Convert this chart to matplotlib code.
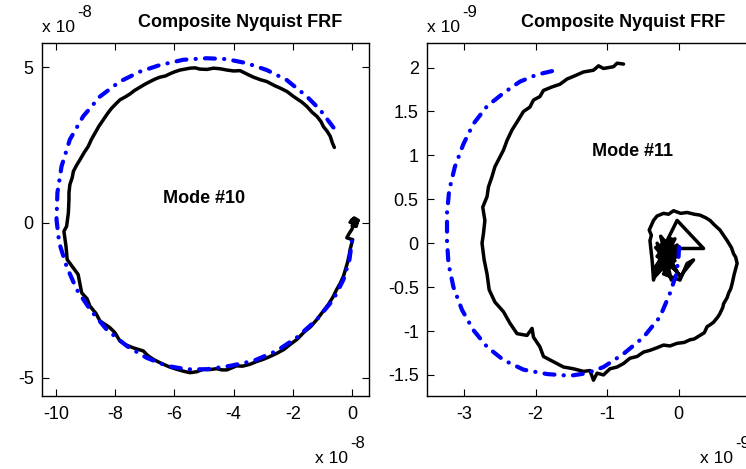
import matplotlib
matplotlib.use("Agg")
import matplotlib.pyplot as plt

plt.rcParams['font.family'] = ['Liberation Sans', 'DejaVu Sans']
plt.rcParams['axes.unicode_minus'] = False

# ---------------- data (x1e-8 for mode 10, x1e-9 for mode 11) ----------------
m10_fit_re = [-0.63, -1.08, -1.53, -2.21, -2.88, -3.56, -4.23, -4.91, -5.70, -6.49, -7.16, -7.84,
              -8.51, -9.08, -9.53, -9.81, -9.95, -9.98, -9.89, -9.64, -9.30, -8.85, -8.29, -7.61,
              -6.94, -6.26, -5.59, -4.91, -4.12, -3.33, -2.55, -1.87, -1.19, -0.63, -0.29, -0.09,
              0.00, 0.05]
m10_fit_im = [3.06, 3.63, 4.06, 4.59, 4.91, 5.13, 5.26, 5.29, 5.24, 5.07, 4.86, 4.54,
              4.06, 3.42, 2.67, 1.81, 0.96, 0.10, -0.65, -1.41, -2.15, -2.79, -3.44, -3.97,
              -4.35, -4.61, -4.72, -4.72, -4.61, -4.45, -4.13, -3.70, -3.12, -2.47, -1.83, -1.19,
              -0.55, -0.33]

m10_meas_re = [-0.60, -0.66, -0.74, -0.85, -0.97, -1.05, -1.19, -1.35, -1.53, -1.70, -1.98, -2.20,
               -2.43, -2.60, -2.88, -3.10, -3.33, -3.55, -3.78, -4.00, -4.23, -4.45, -4.68, -4.90,
               -5.14, -5.30, -5.47, -5.65, -5.81, -6.00, -6.15, -6.30, -6.49, -6.65, -6.82, -7.00,
               -7.16, -7.35, -7.50, -7.65, -7.84, -8.00, -8.12, -8.25, -8.40, -8.55, -8.68, -8.80,
               -8.91, -9.05, -9.19, -9.30, -9.41, -9.45, -9.53, -9.56, -9.56, -9.58, -9.64, -9.73,
               -9.66, -9.62, -9.41, -9.25, -9.13, -8.95, -8.85, -8.65, -8.51, -8.30, -8.18, -8.01,
               -7.84, -7.60, -7.39, -7.05, -6.90, -6.71, -6.55, -6.37, -6.15, -5.92, -5.70, -5.47,
               -5.25, -5.02, -4.80, -4.57, -4.40, -4.23, -3.90, -3.70, -3.45, -3.25, -3.00, -2.80,
               -2.55, -2.30, -2.09, -1.85, -1.64, -1.40, -1.19, -1.00, -0.80, -0.65, -0.52, -0.40,
               -0.29, -0.16, -0.10, -0.07, 0.02, -0.18, -0.10, -0.01, 0.10, 0.05, 0.16, -0.07,
               0.07, 0.21, 0.10, 0.00, 0.14, 0.18, -0.02, 0.12, 0.04]
m10_meas_im = [2.42, 2.55, 2.78, 2.95, 3.09, 3.25, 3.42, 3.55, 3.74, 3.88, 4.06, 4.22,
               4.33, 4.40, 4.54, 4.60, 4.68, 4.78, 4.89, 4.88, 4.91, 4.95, 4.97, 4.93,
               4.94, 4.98, 4.97, 4.94, 4.91, 4.85, 4.79, 4.72, 4.68, 4.62, 4.54, 4.45,
               4.36, 4.25, 4.14, 4.05, 3.95, 3.80, 3.68, 3.52, 3.31, 3.10, 2.88, 2.68,
               2.45, 2.25, 2.02, 1.85, 1.65, 1.45, 1.22, 0.95, 0.74, 0.31, -0.12, -0.28,
               -0.76, -1.19, -1.46, -1.67, -2.26, -2.45, -2.69, -2.92, -3.17, -3.30, -3.38, -3.54,
               -3.81, -3.95, -4.03, -4.13, -4.28, -4.40, -4.48, -4.56, -4.65, -4.72, -4.78, -4.83,
               -4.80, -4.72, -4.73, -4.70, -4.74, -4.74, -4.61, -4.62, -4.56, -4.48, -4.40, -4.32,
               -4.21, -4.08, -3.92, -3.75, -3.54, -3.35, -3.12, -2.88, -2.63, -2.40, -2.15, -1.95,
               -1.72, -1.30, -1.05, -0.87, -0.55, -0.49, -0.35, -0.22, 0.04, 0.10, -0.01, 0.01,
               0.15, 0.07, -0.05, -0.10, -0.12, 0.05, 0.08, -0.08, 0.12]

m11_fit_re = [-1.77, -1.98, -2.22, -2.45, -2.68, -2.87, -3.01, -3.13, -3.21, -3.24, -3.24, -3.22,
              -3.15, -3.03, -2.87, -2.68, -2.45, -2.17, -1.84, -1.52, -1.28, -1.05, -0.77, -0.49,
              -0.26, -0.12, -0.03, 0.00, 0.01]
m11_fit_im = [1.96, 1.92, 1.84, 1.71, 1.56, 1.36, 1.13, 0.87, 0.60, 0.34, 0.03, -0.23,
              -0.50, -0.76, -0.99, -1.18, -1.33, -1.44, -1.49, -1.51, -1.48, -1.41, -1.26, -1.07,
              -0.84, -0.57, -0.35, -0.16, 0.00]

m11_meas_re = [-0.77, -0.86, -0.91, -1.05, -1.12, -1.19, -1.33, -1.47, -1.56, -1.66, -1.77, -1.89,
               -1.94, -2.03, -2.08, -2.17, -2.26, -2.33, -2.40, -2.45, -2.50, -2.57, -2.61, -2.66,
               -2.68, -2.74, -2.71, -2.73, -2.75, -2.72, -2.68, -2.65, -2.57, -2.45, -2.36, -2.26,
               -2.12, -2.05, -2.03, -1.94, -1.89, -1.75, -1.61, -1.47, -1.33, -1.24, -1.19, -1.14,
               -1.05, -0.96, -0.86, -0.77, -0.68, -0.58, -0.49, -0.40, -0.30, -0.21, -0.12, -0.02,
               0.08, 0.16, 0.22, 0.30, 0.36, 0.40, 0.44, 0.49, 0.55, 0.58, 0.62, 0.63,
               0.68, 0.70, 0.73, 0.75, 0.78, 0.82, 0.80, 0.77, 0.74, 0.68, 0.63, 0.58,
               0.50, 0.44, 0.38, 0.30, 0.22, 0.12, 0.03, -0.07, -0.14, -0.21, -0.30, -0.35,
               -0.41, -0.38, -0.40, -0.37, -0.35, -0.30, -0.21, -0.12, -0.02, 0.35, -0.02, -0.16,
               -0.26, -0.12, -0.21, 0.02, 0.12, 0.21, 0.02, -0.12, -0.02,
               -0.25, -0.05, -0.28, -0.02, -0.20, -0.10, -0.30, -0.05, -0.18, -0.12, -0.27, -0.08,
               -0.22, -0.03, -0.15, -0.33, -0.05, -0.32, 0.00, -0.30, -0.10, -0.25, -0.02, -0.35,
               -0.08, -0.20, -0.12]
m11_meas_im = [2.04, 2.05, 2.01, 1.99, 2.02, 1.97, 1.95, 1.90, 1.87, 1.81, 1.78, 1.74,
               1.67, 1.63, 1.55, 1.50, 1.38, 1.29, 1.17, 1.06, 0.98, 0.87, 0.76, 0.64,
               0.53, 0.41, 0.26, 0.11, -0.00, -0.19, -0.35, -0.53, -0.67, -0.78, -0.91, -1.03,
               -1.05, -0.97, -1.07, -1.18, -1.29, -1.35, -1.41, -1.43, -1.46, -1.45, -1.56, -1.48,
               -1.50, -1.43, -1.41, -1.37, -1.31, -1.29, -1.24, -1.22, -1.19, -1.16, -1.17, -1.14,
               -1.13, -1.10, -1.09, -1.05, -1.02, -0.95, -0.93, -0.90, -0.84, -0.80, -0.73, -0.69,
               -0.62, -0.57, -0.52, -0.46, -0.35, -0.23, -0.16, -0.12, -0.05, 0.03, 0.09, 0.15,
               0.21, 0.26, 0.29, 0.32, 0.33, 0.35, 0.34, 0.37, 0.33, 0.34, 0.31, 0.26,
               0.15, 0.09, 0.03, -0.19, -0.42, -0.27, -0.08, -0.00, -0.06, -0.06, 0.26, 0.03,
               -0.12, -0.27, -0.35, -0.42, -0.23, -0.19, -0.38, -0.19, -0.12,
               -0.05, -0.20, -0.25, -0.02, -0.32, 0.05, -0.15, -0.30, 0.00, -0.25, -0.10, -0.28,
               -0.18, -0.10, -0.22, -0.38, 0.05, -0.05, -0.35, 0.00, -0.42, 0.08, -0.15, -0.30,
               0.02, -0.20, -0.08]

titles = ["Composite Nyquist FRF", "Composite Nyquist FRF"]
mode_labels = ["Mode #10", "Mode #11"]
exps = ["-8", "-9"]
xticks10 = [-10, -8, -6, -4, -2, 0]
yticks10 = [-5, 0, 5]
xticks11 = [-3, -2, -1, 0, 1]
yticks11 = [-1.5, -1, -0.5, 0, 0.5, 1, 1.5, 2]

# ---------------- figure ----------------
W, H = 746, 469
fig = plt.figure(figsize=(W / 100, H / 100), dpi=100)

def px(x, y):
    return x / W, 1 - y / H

ax1 = fig.add_axes([42 / W, 1 - 396 / H, 327 / W, 353 / H])
ax2 = fig.add_axes([427 / W, 1 - 396 / H, 333 / W, 353 / H])

dash = (2.4, 2.2, 0.05, 2.2)
BLK = dict(color='black', lw=2.5, zorder=2, solid_joinstyle='round', solid_capstyle='round')
BLU = dict(color='blue', lw=3.0, dashes=dash, dash_capstyle='round', zorder=3)

ax1.plot(m10_meas_re, m10_meas_im, **BLK)
ax1.plot(m10_fit_re, m10_fit_im, **BLU)
ax1.set_xlim(-10.47, 0.57)
ax1.set_ylim(-5.58, 5.78)
ax1.set_xticks(xticks10)
ax1.set_yticks(yticks10)
ax1.set_xticklabels([str(v) for v in xticks10])
ax1.set_yticklabels([str(v) for v in yticks10])
ax1.text(-5.0, 0.64, mode_labels[0], ha='center', va='baseline', fontsize=13, fontweight='bold')

ax2.plot(m11_meas_re, m11_meas_im, **BLK)
ax2.plot(m11_fit_re, m11_fit_im, **BLU)
ax2.set_xlim(-3.52, 1.14)
ax2.set_ylim(-1.74, 2.28)
ax2.set_xticks(xticks11)
ax2.set_yticks(yticks11)
ax2.set_xticklabels([f"{v:g}" for v in xticks11])
ax2.set_yticklabels([f"{v:g}" for v in yticks11])
ax2.text(-0.65, 0.99, mode_labels[1], ha='center', va='baseline', fontsize=13, fontweight='bold')

for ax in (ax1, ax2):
    ax.tick_params(direction='in', top=True, right=True, length=5, width=0.8,
                   labelsize=13, colors='black')
    ax.tick_params(axis='x', pad=7)
    ax.tick_params(axis='y', pad=6)
    for s in ax.spines.values():
        s.set_linewidth(1.0)
        s.set_color('black')

# titles
fig.text(*px(240, 27), titles[0], ha='center', va='baseline', fontsize=13, fontweight='bold')
fig.text(*px(623, 27), titles[1], ha='center', va='baseline', fontsize=13, fontweight='bold')

# exponent labels
def exp_label(xl, yb, e):
    fig.text(*px(xl, yb), "x 10", ha='left', va='baseline', fontsize=12.5)
    fig.text(*px(xl + 35, yb - 15), e, ha='left', va='baseline', fontsize=12)

exp_label(42, 32, exps[0])
exp_label(315, 463, exps[0])
exp_label(427, 32, exps[1])
exp_label(700, 463, exps[1])

fig.savefig("out.png", dpi=100)
